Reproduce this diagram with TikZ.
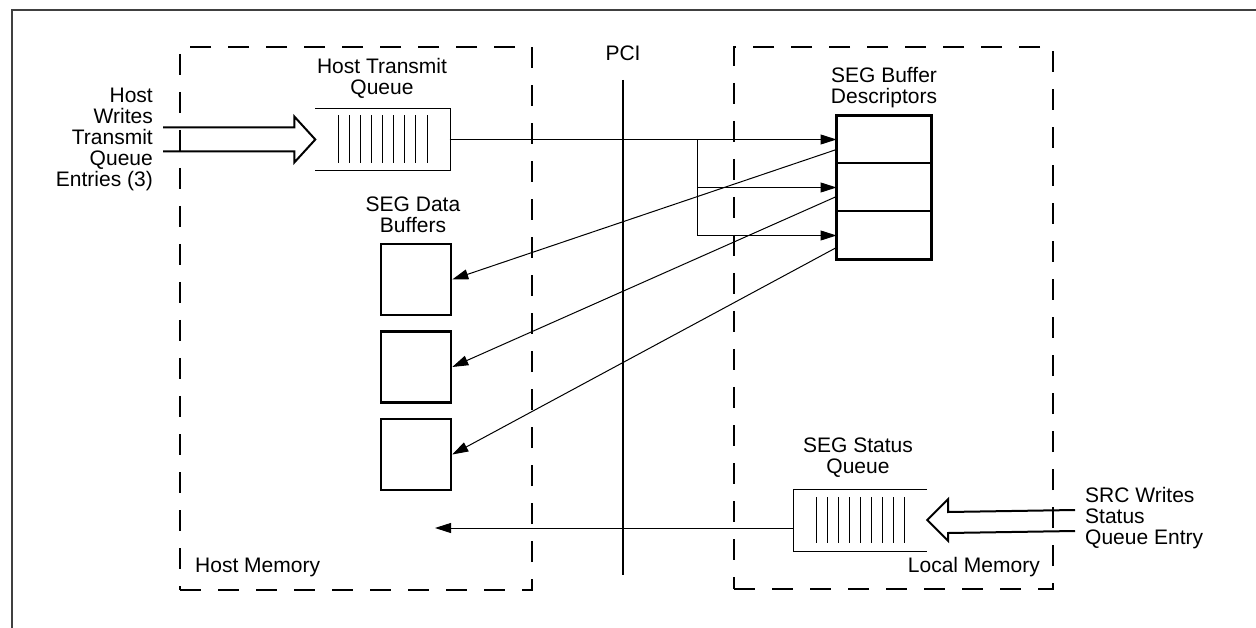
\documentclass[tikz,border=0pt]{standalone}
\usepackage{fontspec}
\setmainfont{Liberation Sans}
\usetikzlibrary{arrows.meta,positioning,calc}

\begin{document}
\begin{tikzpicture}[
  x=1pt, y=-1pt,
  font=\fontsize{21}{21}\selectfont,
  mem/.style={draw, line width=2.5pt, dash pattern=on 21pt off 17pt, inner sep=0pt},
  qbox/.style={inner sep=0pt, minimum width=134pt, minimum height=62pt},
  dbuf/.style={draw, line width=2.5pt, inner sep=0pt, minimum width=70pt, minimum height=71pt},
  desc/.style={draw, line width=1pt, inner sep=0pt, minimum width=94pt, minimum height=47pt},
  lab/.style={align=center, inner sep=0pt},
  arr/.style={-{Triangle[length=16pt, width=10pt]}, line width=1pt},
  fat/.style={line width=2pt, line join=miter},
  bar/.style={line width=1pt},
  bus/.style={line width=2pt},
  frame/.style={line width=1.5pt, draw=black!75}
]
\useasboundingbox (0,0) rectangle (1256,628);
\draw[frame] (12,628) -- (12,10) -- (1256,10);

% ================= memories and bus =================
\node[mem, minimum width=352pt, minimum height=543pt] (hm) at (356,318.5) {};
\node[mem, minimum width=319pt, minimum height=542pt] (lm) at (893.5,318) {};
\node[lab, anchor=west] (hmlab) at (195,567) {Host Memory};
\node[lab, anchor=east] (lmlab) at (1040,567) {Local Memory};
\node[lab] (pci) at (623,53) {PCI};
\draw[bus] (pci.south |- 0,80) -- (pci.south |- 0,575);

% ================= host side =================
\node[qbox] (htq) at (382.5,139.5) {};
\draw (htq.north west) -- (htq.north east) -- (htq.south east) -- (htq.south west);
\foreach \i in {0,...,8}{\draw[bar] ($(htq.center)+(-44.5+11.125*\i,-24)$) -- ++(0,48);}
\node[lab] (htqlab) at (382,78) {Host Transmit\\Queue};
\node[lab, anchor=east, align=right] (hostw) at (153,139.5) {Host\\Writes\\Transmit\\Queue\\Entries (3)};
\draw[fat] ($(hostw.east)+(10,-12)$) -- ($(htq.west)+(-21,-12)$) -- ++(0,-11) -- (htq.west)
  -- ($(htq.west)+(-21,23)$) -- ++(0,-11) -- ($(hostw.east)+(10,12)$);

\node[lab] (dblab) at (413,215) {SEG Data\\Buffers};
\node[dbuf] (db1) at (416,279.5) {};
\node[dbuf, below=14pt of db1] (db2) {};
\node[dbuf, below=14pt of db2] (db3) {};

% ================= local side =================
\node[lab] (sbdlab) at (884,88) {SEG Buffer\\Descriptors};
\node[desc] (sbd1) at (884,139.5) {};
\node[desc, below=0pt of sbd1] (sbd2) {};
\node[desc, below=0pt of sbd2] (sbd3) {};
\draw[line width=2.5pt] (sbd1.north west) rectangle (sbd3.south east);

\node[qbox] (ssq) at (860,520) {};
\draw (ssq.north east) -- (ssq.north west) -- (ssq.south west) -- (ssq.south east);
\foreach \i in {0,...,8}{\draw[bar] ($(ssq.center)+(-44+11*\i,-23)$) -- ++(0,46);}
\node[lab] (ssqlab) at (858,458) {SEG Status\\Queue};
\node[lab, anchor=west, align=left] (srcw) at (1085,518) {SRC Writes\\Status\\Queue Entry};
\draw[fat] ($(srcw.west)+(-10,-8)$) -- ($(ssq.east)+(21,-8)$) -- ++(0,-13) -- (ssq.east)
  -- ($(ssq.east)+(21,21)$) -- ++(0,-8) -- ($(srcw.west)+(-10,13)$);

% ================= transfers =================
\coordinate (br) at ($(htq.east)!0.64!(sbd1.west)$);
\draw[arr] (htq.east) -- (sbd1.west);
\draw[arr] (br) |- (sbd3.west);
\draw[arr] (br |- sbd2.west) -- (sbd2.west);
\draw[arr] ([yshift=14pt]sbd1.south west) -- (db1.east);
\draw[arr] ([yshift=15pt]sbd2.south west) -- (db2.east);
\draw[arr] ([yshift=12pt]sbd3.south west) -- (db3.east);
\coordinate (hmin) at (435,528);
\draw[arr] ([yshift=-8pt]ssq.west) -- (hmin);

\end{tikzpicture}
\end{document}
